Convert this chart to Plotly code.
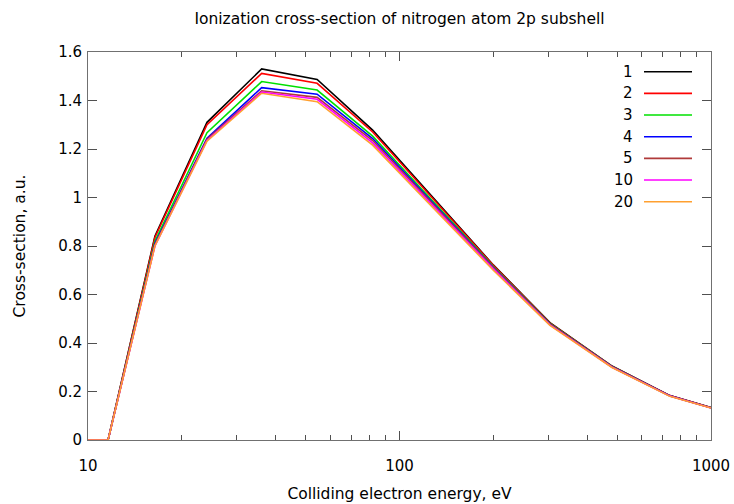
import plotly.graph_objects as go

energy = [10, 11.6, 16.4, 24.1, 36.1, 54.4, 82, 200, 304, 481, 738, 1000]
series_names = ["1", "2", "3", "4", "5", "10", "20"]
s1 = [0, 0, 0.840, 1.310, 1.530, 1.487, 1.278, 0.722, 0.484, 0.305, 0.183, 0.134]
s2 = [0, 0, 0.835, 1.300, 1.512, 1.471, 1.270, 0.720, 0.482, 0.304, 0.183, 0.134]
s3 = [0, 0, 0.820, 1.267, 1.478, 1.443, 1.253, 0.715, 0.480, 0.303, 0.182, 0.133]
s4 = [0, 0, 0.810, 1.244, 1.453, 1.426, 1.243, 0.712, 0.478, 0.302, 0.182, 0.133]
s5 = [0, 0, 0.805, 1.240, 1.440, 1.413, 1.235, 0.710, 0.477, 0.301, 0.181, 0.133]
s10 = [0, 0, 0.800, 1.235, 1.435, 1.405, 1.225, 0.706, 0.475, 0.300, 0.181, 0.132]
s20 = [0, 0, 0.800, 1.232, 1.430, 1.395, 1.216, 0.700, 0.473, 0.299, 0.180, 0.132]
values = [s1, s2, s3, s4, s5, s10, s20]
colors = ["#000000", "#ff0000", "#00e000", "#0000ff", "#b03a3a", "#ff00ff", "#ffa030"]

x_ticks = [10, 100, 1000]
x_tick_labels = ["10", "100", "1000"]
y_ticks = [0, 0.2, 0.4, 0.6, 0.8, 1.0, 1.2, 1.4, 1.6]
y_tick_labels = ["0", "0.2", "0.4", "0.6", "0.8", "1", "1.2", "1.4", "1.6"]

FONT = "DejaVu Sans"
W, H = 734, 504
L, R, T, B = 88, 23, 52, 64
pw, ph = W - L - R, H - T - B

fig = go.Figure()
for name, ys, c in zip(series_names, values, colors):
    fig.add_trace(go.Scatter(x=energy, y=ys, mode="lines", name=name,
                             line=dict(color=c, width=1.6), showlegend=False,
                             cliponaxis=False))

# gnuplot-style legend: label on the left, sample line on the right
row0, step = 71.7, 21.67
for i, (name, c) in enumerate(zip(series_names, colors)):
    py = row0 + i * step
    yp = (H - B - py) / ph
    fig.add_annotation(x=(635 - L) / pw, y=yp, xref="paper", yref="paper",
                       text=name, showarrow=False, xanchor="right", yanchor="middle",
                       font=dict(family=FONT, size=15, color="black"))
    fig.add_shape(type="line", xref="paper", yref="paper",
                  x0=(644 - L) / pw, x1=(692 - L) / pw, y0=yp, y1=yp,
                  line=dict(color=c, width=1.6))

axis_common = dict(showline=True, linecolor="#707070", linewidth=1, mirror="allticks",
                   ticks="inside", tickcolor="#505050", showgrid=False, zeroline=False,
                   layer="below traces",
                   tickfont=dict(family=FONT, size=15, color="black"))

fig.update_layout(
    width=W, height=H,
    margin=dict(l=L, r=R, t=T, b=B, pad=0),
    paper_bgcolor="white", plot_bgcolor="white",
    title=dict(text="Ionization cross-section of nitrogen atom 2p subshell",
               x=(L + pw / 2) / W, xanchor="center", y=1 - 19 / H, yanchor="middle",
               font=dict(family=FONT, size=15.5, color="black")),
    xaxis=dict(type="log", range=[1, 3], tickvals=x_ticks, ticktext=x_tick_labels,
               ticklen=9, automargin=False, ticklabelstandoff=12,
               minor=dict(ticks="inside", ticklen=5, tickcolor="#505050", dtick="D1", showgrid=False),
               title=dict(text="Colliding electron energy, eV", standoff=14,
                          font=dict(family=FONT, size=15.5, color="black")),
               **axis_common),
    yaxis=dict(range=[0, 1.6], tickvals=y_ticks, ticktext=y_tick_labels, ticklen=9,
               automargin=False, ticklabelstandoff=2,
               title=dict(text="Cross-section, a.u.", standoff=28,
                          font=dict(family=FONT, size=15.5, color="black")),
               **axis_common),
)

fig.write_html("out.html")
